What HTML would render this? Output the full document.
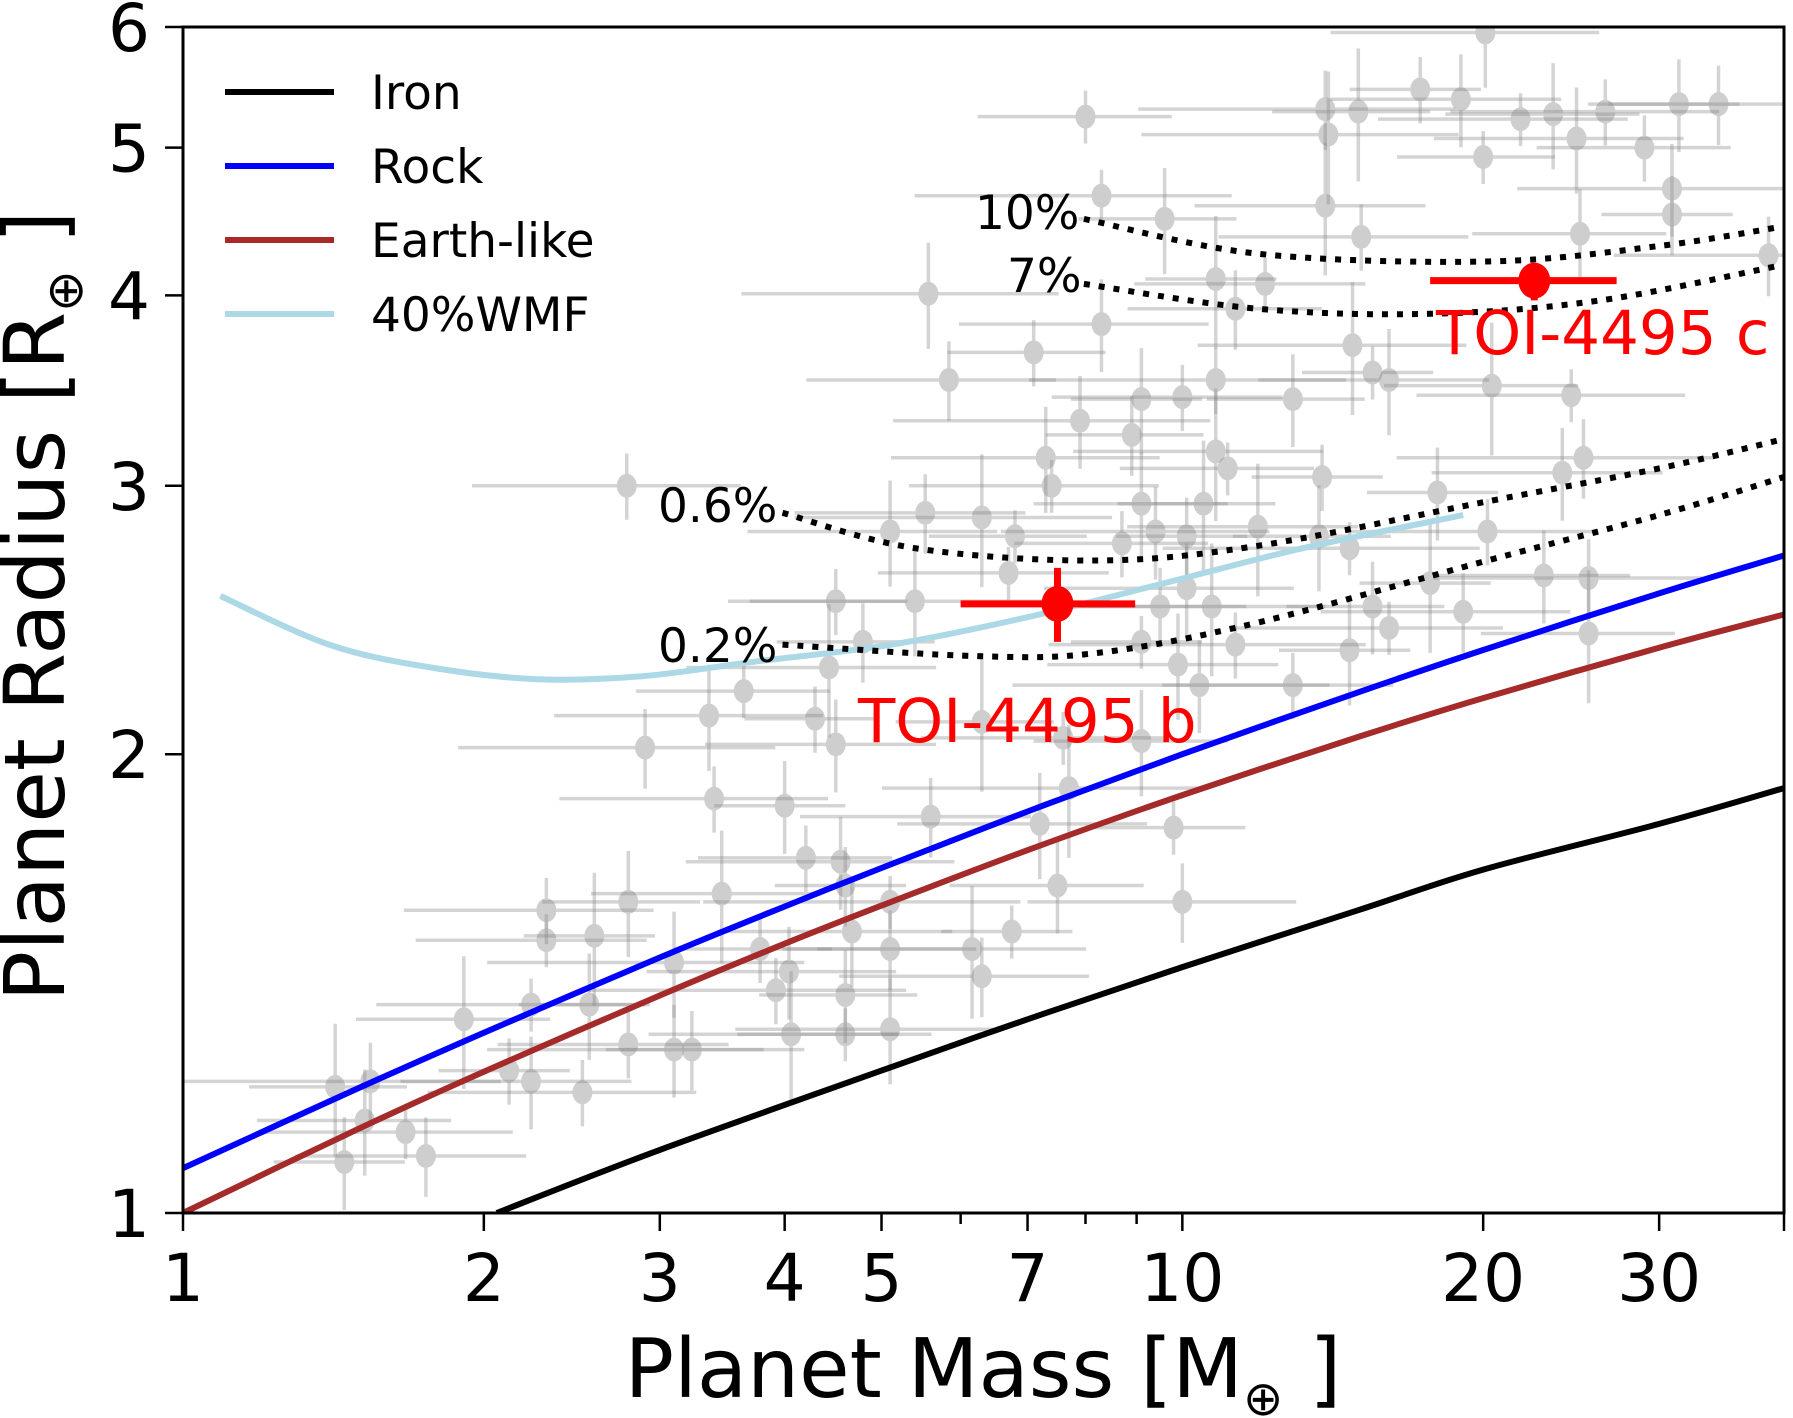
<!DOCTYPE html>
<html><head><meta charset="utf-8">
<style>
html,body{margin:0;padding:0;background:#fff;}
svg{display:block;font-family:"DejaVu Sans","Liberation Sans",sans-serif;}
</style></head>
<body>
<svg id="chart" width="1793" height="1418" viewBox="0 0 1793 1418" xmlns="http://www.w3.org/2000/svg">
<g id="plot"></g>
</svg>
<script>
// ---- data ----
const gmass = [8,20.1,17.3,19,13.9,15,21.8,23.5,26.5,31.4,34.4,14,20,24.8,29,30.9,30.9,13.9,8.3,9.6,15.1,25,38.6,10.8,12.1,5.57,7.1,8.3,11.3,14.8,15.5,16.1,10.8,12.9,5.84,20.4,24.5,9.1,10,7.9,8.9,10.8,11.1,7.3,13.8,24,25.2,10.5,7.4,9.1,2.78,18.0,5.53,6.3,6.8,5.1,8.7,9.4,10.1,11.9,14.7,13.7,20.2,23,25.5,17.7,6.7,5.4,4.5,10.1,9.5,10.7,9.1,9.9,11.3,15.5,19.1,25.5,16.1,14.7,12.9,10.4,4.79,4.43,3.64,3.36,4.29,4.5,2.9,6.3,7.6,9.1,3.4,4.0,5.6,7.7,9.8,7.2,4.2,4.55,4.6,3.46,5.1,2.79,2.31,7.5,10,2.58,2.31,3.1,3.78,4.04,5.1,6.16,6.75,4.67,3.92,4.6,6.3,1.91,2.23,2.55,2.79,3.1,3.23,4.06,4.6,5.1,2.12,2.23,1.54,1.42,1.67,1.52,2.51,1.45,1.75];
const grad = [5.24,5.95,5.46,5.38,5.3,5.28,5.22,5.26,5.28,5.34,5.34,5.1,4.93,5.07,5.0,4.7,4.52,4.58,4.65,4.49,4.37,4.39,4.25,4.1,4.07,4.01,3.67,3.83,3.92,3.71,3.56,3.52,3.52,3.42,3.52,3.49,3.44,3.42,3.43,3.31,3.24,3.16,3.08,3.13,3.04,3.06,3.13,2.92,3.0,2.92,3.0,2.97,2.88,2.86,2.78,2.8,2.75,2.8,2.78,2.82,2.73,2.78,2.8,2.62,2.61,2.59,2.63,2.52,2.52,2.57,2.5,2.5,2.37,2.29,2.36,2.5,2.48,2.4,2.42,2.34,2.22,2.22,2.37,2.28,2.2,2.12,2.11,2.03,2.02,2.1,2.05,2.04,1.87,1.85,1.82,1.9,1.79,1.8,1.71,1.7,1.64,1.62,1.6,1.6,1.58,1.64,1.6,1.52,1.51,1.46,1.49,1.44,1.49,1.49,1.53,1.53,1.4,1.39,1.43,1.34,1.37,1.37,1.29,1.28,1.28,1.31,1.31,1.32,1.24,1.22,1.22,1.21,1.13,1.15,1.2,1.08,1.09];
const gMassErrFrac = [0.22,0.3,0.15,0.26,0.35,0.18,0.28];
const gRadErrFrac = [0.05,0.08,0.04,0.1,0.06,0.07];

const ironM = [2.06,3,5,7,10,15,20,30,40];
const ironR = [1.0,1.1,1.24,1.34,1.45,1.58,1.68,1.80,1.90];
const rockM = [1,1.5,2,3,4,5,7,10,15,20,30,40];
const rockR = [1.07,1.208,1.313,1.471,1.589,1.684,1.834,2.0,2.196,2.341,2.55,2.70];
const earthM = [1,1.5,2,3,4,5,7,10,15,20,30,40];
const earthR = [1.0,1.136,1.238,1.389,1.502,1.591,1.73,1.88,2.053,2.177,2.349,2.47];
const wmfM = [1.09,1.40,1.77,2.26,2.88,3.73,5.12,7.0,9.6,13.2,19.1];
const wmfR = [2.54,2.36,2.28,2.24,2.25,2.30,2.36,2.46,2.59,2.73,2.87];

const h06M = [3.98,5.4,8.2,11.9,20.2,30,40];
const h06R = [2.88,2.73,2.68,2.74,2.93,3.08,3.22];
const h02M = [3.98,6.16,8.2,11.9,20.2,30,40];
const h02R = [2.36,2.32,2.33,2.44,2.68,2.87,3.04];
const h10M = [7.97,11.9,20.2,30,40];
const h10R = [4.49,4.26,4.21,4.31,4.44];
const h7M = [7.97,11.9,17.7,26.2,40];
const h7R = [4.07,3.92,3.89,3.97,4.19];

const toiNames = ["TOI-4495 b","TOI-4495 c"];
const toiM = [7.5,22.5];
const toiMlo = [6.0,17.7];
const toiMhi = [8.97,27.2];
const toiR = [2.51,4.09];
const toiRlo = [2.37,3.97];
const toiRhi = [2.65,4.2];

const xTicks = [1,2,3,4,5,6,7,8,9,10,20,30,40];
const xTickLabels = ["1","2","3","4","5","","7","","","10","20","30",""];
const yTicks = [1,2,3,4,5,6];
const yTickLabels = ["1","2","3","4","5","6"];

// ---- axes ----
const X0=183, X1=1784, Y0=1213, Y1=27;
const xmin=1, xmax=40, ymin=1, ymax=6;
function sx(m){return X0+(X1-X0)*(Math.log10(m)-Math.log10(xmin))/(Math.log10(xmax)-Math.log10(xmin));}
function sy(r){return Y0-(Y0-Y1)*(Math.log10(r)-Math.log10(ymin))/(Math.log10(ymax)-Math.log10(ymin));}

const NS="http://www.w3.org/2000/svg";
const svg=document.getElementById('chart');
const plot=document.getElementById('plot');
function mk(tag,attrs,parent){const e=document.createElementNS(NS,tag);for(const k in attrs)e.setAttribute(k,attrs[k]);(parent||svg).appendChild(e);return e;}

const defs=mk('defs',{});
const cp=mk('clipPath',{id:'clip'},defs);
mk('rect',{x:X0,y:Y1,width:X1-X0,height:Y0-Y1},cp);
plot.setAttribute('clip-path','url(#clip)');

const gg=mk('g',{},plot);


for(let i=0;i<gmass.length;i++){
  const m=gmass[i], r=grad[i];
  const fe=gMassErrFrac[i%gMassErrFrac.length], re=gRadErrFrac[(i*5+2)%gRadErrFrac.length];
  const g=mk('g',{opacity:0.36},gg);
  
  
  mk('line',{x1:sx(m*(1-fe)),x2:sx(m*(1+fe)),y1:sy(r),y2:sy(r),stroke:'#8a8a8a','stroke-width':3.5},g);
  mk('line',{x1:sx(m),x2:sx(m),y1:sy(r*(1-re)),y2:sy(r*(1+re)),stroke:'#8a8a8a','stroke-width':3.5},g);
  mk('ellipse',{cx:sx(m),cy:sy(r),rx:10,ry:12,fill:'#7a7a7a'},g);
}

function curve(M,R,attrs,name){
  const P=M.map((m,i)=>[sx(m),sy(R[i])]);
  let d='M'+P[0][0].toFixed(1)+','+P[0][1].toFixed(1);
  for(let i=0;i<P.length-1;i++){
    const p0=P[Math.max(0,i-1)],p1=P[i],p2=P[i+1],p3=P[Math.min(P.length-1,i+2)];
    const c1=[p1[0]+(p2[0]-p0[0])/6,p1[1]+(p2[1]-p0[1])/6];
    const c2=[p2[0]-(p3[0]-p1[0])/6,p2[1]-(p3[1]-p1[1])/6];
    d+='C'+c1[0].toFixed(1)+','+c1[1].toFixed(1)+' '+c2[0].toFixed(1)+','+c2[1].toFixed(1)+' '+p2[0].toFixed(1)+','+p2[1].toFixed(1);
  }
  const p=mk('path',Object.assign({d:d,fill:'none','stroke-linejoin':'round'},attrs),plot);
  
  
  return p;
}
curve(wmfM,wmfR,{stroke:'#add8e6','stroke-width':6},'wmf40-curve');
curve(ironM,ironR,{stroke:'#000','stroke-width':6},'iron-curve');
curve(rockM,rockR,{stroke:'#0000ff','stroke-width':6},'rock-curve');
curve(earthM,earthR,{stroke:'#a52a2a','stroke-width':6},'earth-like-curve');
const dot={stroke:'#000','stroke-width':6,'stroke-dasharray':'6 9'};
curve(h10M,h10R,dot,'hhe-10pct-curve');
curve(h7M,h7R,dot,'hhe-7pct-curve');
curve(h06M,h06R,dot,'hhe-0.6pct-curve');
curve(h02M,h02R,dot,'hhe-0.2pct-curve');

for(let i=0;i<toiM.length;i++){
  const g=mk('g',{},plot);
  
  
  mk('line',{x1:sx(toiMlo[i]),x2:sx(toiMhi[i]),y1:sy(toiR[i]),y2:sy(toiR[i]),stroke:'#ff0000','stroke-width':7},g);
  mk('line',{x1:sx(toiM[i]),x2:sx(toiM[i]),y1:sy(toiRlo[i]),y2:sy(toiRhi[i]),stroke:'#ff0000','stroke-width':7},g);
  mk('ellipse',{cx:sx(toiM[i]),cy:sy(toiR[i]),rx:16,ry:18,fill:'#ff0000'},g);
}
</script>
<script>
(function(){
const tl=[["TOI-4495 b",858,742],["TOI-4495 c",1436,354]];
for(const [t,x,y] of tl){const e=mk('text',{x:x,y:y,fill:'#ff0000','font-size':61});e.textContent=t;

}
const cl=[["10%",975,229],["7%",1007,292],["0.6%",658,522],["0.2%",658,662]];
for(const [t,x,y] of cl){const e=mk('text',{x:x,y:y,fill:'#000','font-size':47});e.textContent=t;

}

const fr=mk('rect',{x:X0,y:Y1,width:X1-X0,height:Y0-Y1,fill:'none',stroke:'#000','stroke-width':3});



for(let i=0;i<xTicks.length;i++){
  const v=xTicks[i], x=sx(v);
  const major=(v===1||v===10);
  const lab=xTickLabels[i]!=='';
  const len=(major||lab||v===40)?18:11;
  const t=mk('line',{x1:x,x2:x,y1:Y0,y2:Y0+len,stroke:'#000','stroke-width':2.5});
  
  
  if(lab){const e=mk('text',{x:x,y:1301,'text-anchor':'middle','font-size':66});e.textContent=xTickLabels[i];
  
  }
}
for(let i=0;i<yTicks.length;i++){
  const y=sy(yTicks[i]);
  const t=mk('line',{x1:X0-18,x2:X0,y1:y,y2:y,stroke:'#000','stroke-width':2.5});
  
  
  const e=mk('text',{x:150,y:y+24,'text-anchor':'end','font-size':66});e.textContent=yTickLabels[i];
  
  
}
const xt=mk('text',{x:983,y:1397,'text-anchor':'middle','font-size':82});
xt.innerHTML='Planet Mass [M<tspan font-size="48" dy="18">⊕</tspan><tspan dy="-18"> ]</tspan>';


const yt=mk('text',{x:0,y:0,'text-anchor':'middle','font-size':84,transform:'translate(64,606) rotate(-90)'});
yt.innerHTML='Planet Radius [R<tspan font-size="50" dy="18">⊕</tspan><tspan dy="-18"> ]</tspan>';



const leg=[["Iron","#000"],["Rock","#0000ff"],["Earth-like","#a52a2a"],["40%WMF","#add8e6"]];
const lg=mk('g',{});


leg.forEach(([t,c],i)=>{
  const y=92+74*i;
  const l=mk('line',{x1:225,x2:334,y1:y,y2:y,stroke:c,'stroke-width':6},lg);
  
  
  const e=mk('text',{x:371,y:y+17,'font-size':47},lg);e.textContent=t;
  
  
});
})();
</script>
</body></html>
